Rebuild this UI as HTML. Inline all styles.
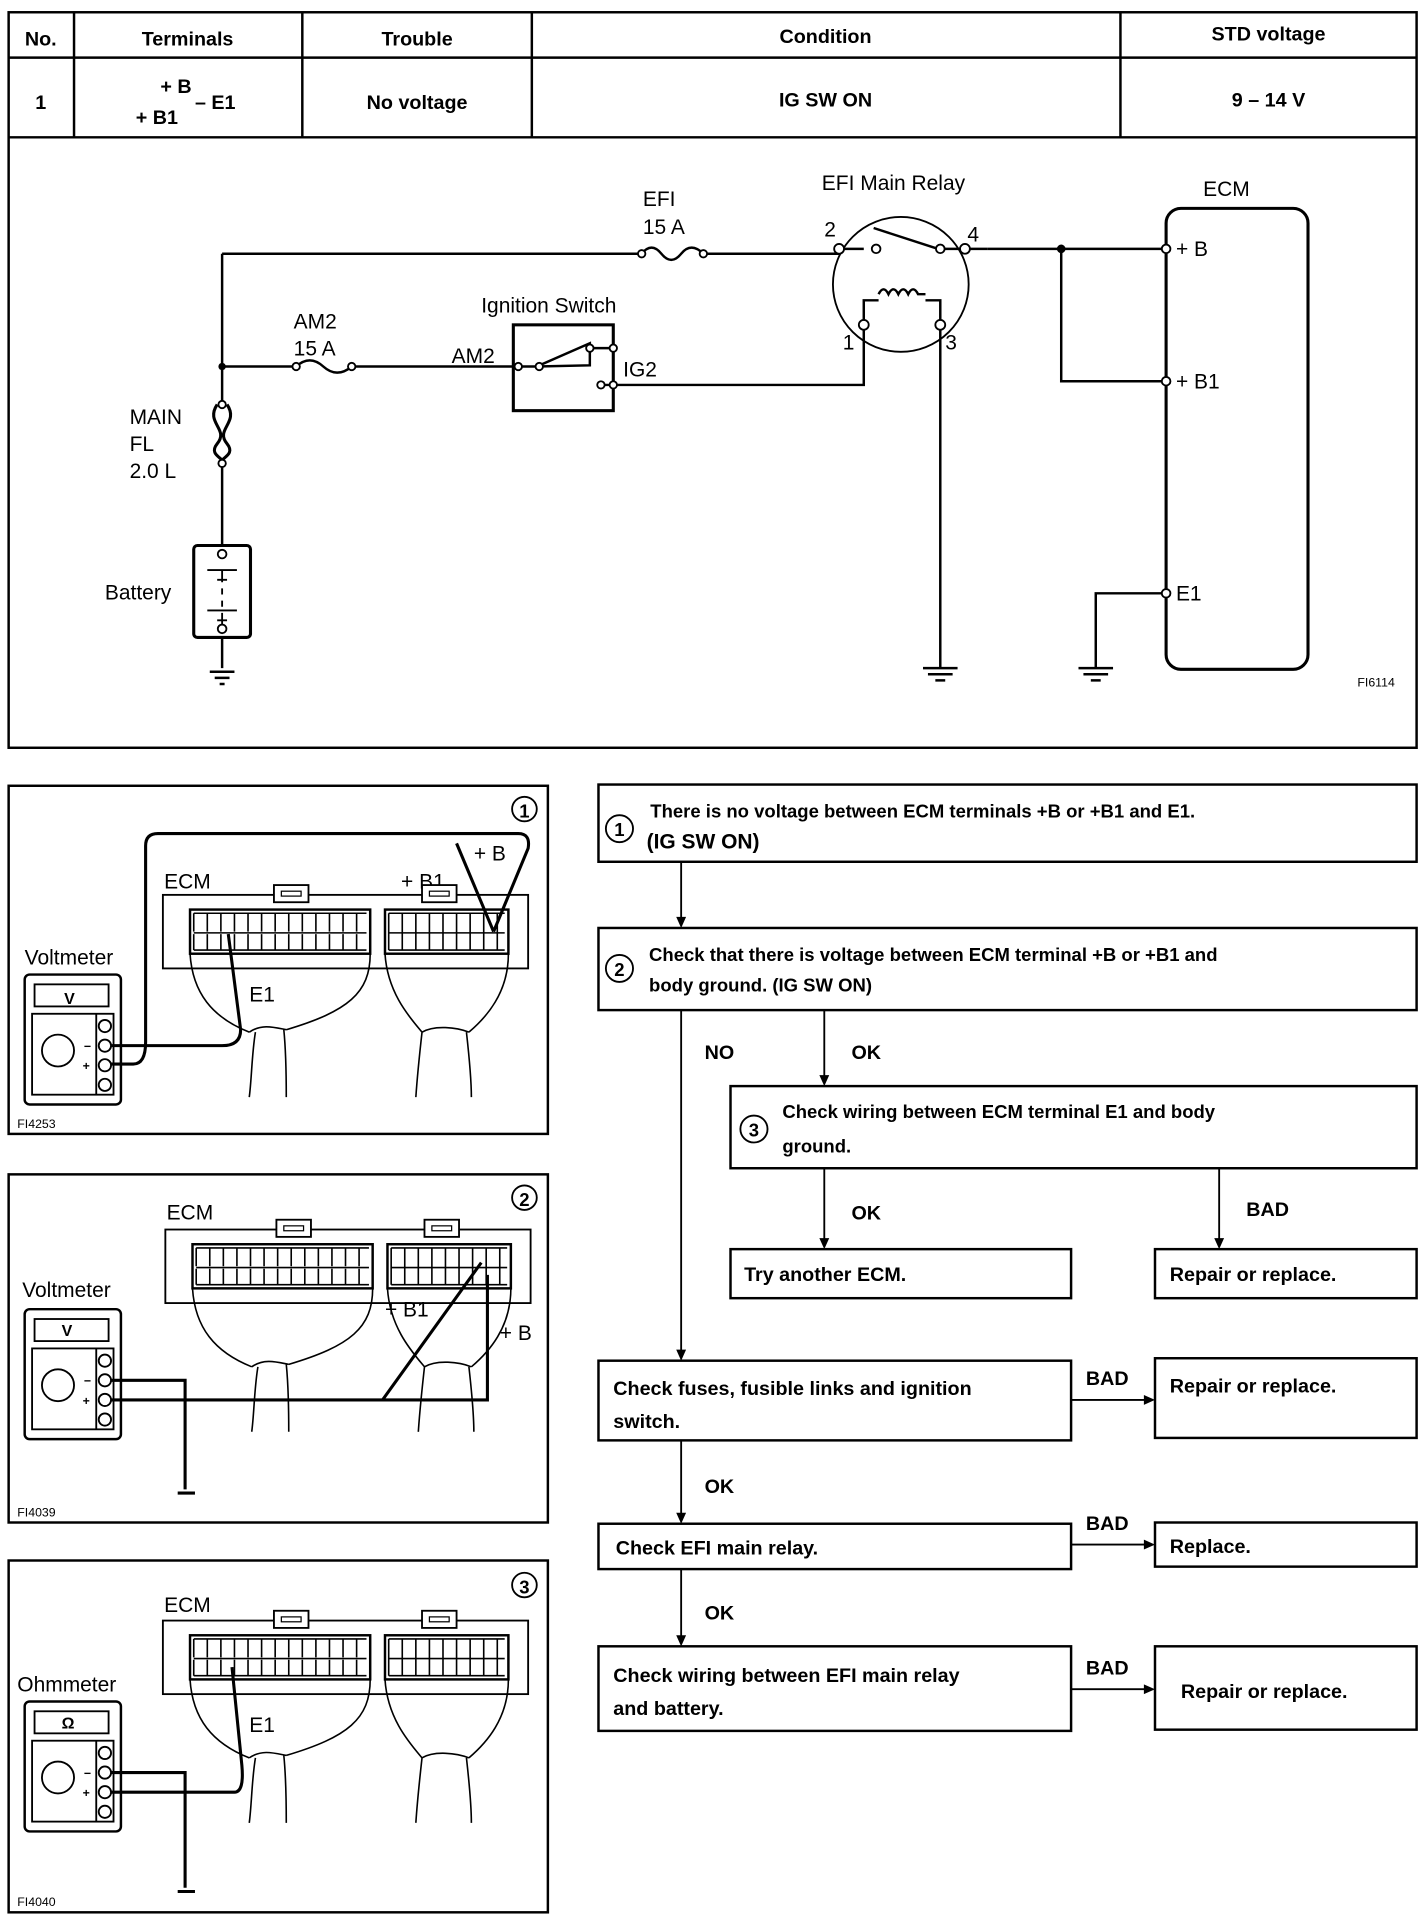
<!DOCTYPE html>
<html><head><meta charset="utf-8"><style>
html,body{margin:0;padding:0;background:#fff}
svg{display:block}
text{font-family:"Liberation Sans",sans-serif;fill:#000}
.b{font-weight:bold}
</style></head><body>
<svg width="1424" height="1916" viewBox="0 0 1154 1563" preserveAspectRatio="none" xmlns="http://www.w3.org/2000/svg">
<defs>
<g id="conn">
 <rect x="0" y="0" width="296" height="60" fill="none" stroke="#000" stroke-width="1.5"/>
 <rect x="90" y="-8" width="28" height="14" fill="#fff" stroke="#000" stroke-width="1.5"/>
 <rect x="96" y="-3" width="16" height="4" fill="none" stroke="#000"/>
 <rect x="210" y="-8" width="28" height="14" fill="#fff" stroke="#000" stroke-width="1.5"/>
 <rect x="216" y="-3" width="16" height="4" fill="none" stroke="#000"/>
 <rect x="22" y="12" width="146" height="36" fill="none" stroke="#000" stroke-width="2"/>
 <rect x="180" y="12" width="100" height="36" fill="none" stroke="#000" stroke-width="2"/>
 <g fill="none" stroke="#000" stroke-width="1.3">
 <path d="M25 15h140M25 31h140M25 30v-15M36 30v-15M47 30v-15M58 30v-15M69 30v-15M80 30v-15M91 30v-15M102 30v-15M113 30v-15M124 30v-15M135 30v-15M146 30v-15M157 30v-15M25 32v13M36 32v13M47 32v13M58 32v13M69 32v13M80 32v13M91 32v13M102 32v13M113 32v13M124 32v13M135 32v13M146 32v13M157 32v13M25 45h140"/>
 <path d="M183 15h94M183 31h94M183 45h94M183 15v30M194 15v30M205 15v30M216 15v30M227 15v30M238 15v30M249 15v30M260 15v30M271 15v30"/>
 <path d="M22 48 C24 80 40 100 70 112 M168 48 C168 80 150 95 100 110 M70 112 C80 105 90 108 100 110 M75 112 C72 130 72 150 70 165 M98 110 C100 130 100 150 100 165"/>
 <path d="M180 48 C182 80 200 100 210 112 M280 48 C280 80 262 100 248 112 M210 112 C220 106 238 108 248 112 M210 112 C208 130 206 150 205 165 M246 112 C248 130 250 150 250 165"/>
 </g>
</g>
<g id="meter">
 <rect x="0" y="0" width="78" height="106" rx="4" fill="none" stroke="#000" stroke-width="2"/>
 <rect x="8" y="8" width="60" height="18" fill="none" stroke="#000" stroke-width="1.5"/>
 <rect x="6" y="32" width="66" height="66" fill="none" stroke="#000" stroke-width="1.5"/>
 <line x1="58" y1="32" x2="58" y2="98" stroke="#000" stroke-width="1.5"/>
 <circle cx="27" cy="62" r="13" fill="none" stroke="#000" stroke-width="1.5"/>
 <g fill="none" stroke="#000" stroke-width="1.5"><circle cx="65" cy="42" r="5"/><circle cx="65" cy="58" r="5"/><circle cx="65" cy="74" r="5"/><circle cx="65" cy="90" r="5"/></g>
 <text x="48" y="62" font-size="10" class="b">−</text><text x="47" y="78" font-size="10" class="b">+</text>
</g>
</defs>

<!-- Table -->
<g fill="none" stroke="#000" stroke-width="2">
<rect x="7" y="10" width="1141" height="600"/>
<line x1="7" y1="47" x2="1148" y2="47"/>
<line x1="7" y1="112" x2="1148" y2="112"/>
<line x1="60" y1="10" x2="60" y2="112"/><line x1="245" y1="10" x2="245" y2="112"/><line x1="431" y1="10" x2="431" y2="112"/><line x1="908" y1="10" x2="908" y2="112"/>
</g>
<g class="b" font-size="16" text-anchor="middle">
<text x="33" y="37">No.</text><text x="152" y="37">Terminals</text><text x="338" y="37">Trouble</text><text x="669" y="35">Condition</text><text x="1028" y="33">STD voltage</text>
<text x="33" y="89">1</text><text x="338" y="89">No voltage</text><text x="669" y="87">IG SW ON</text><text x="1028" y="87">9 – 14 V</text>
<text x="130" y="76" text-anchor="start">+ B</text><text x="110" y="101" text-anchor="start">+ B1</text><text x="158" y="89" text-anchor="start">– E1</text>
</g>

<!-- Circuit -->
<g fill="none" stroke="#000" stroke-width="2">
<path d="M180 207H520M570 207H680M180 207V310M180 299H240M285 299H420"/>
<path d="M520 207q8-10 16 0q8 10 16 0q8-10 18 0" /><path d="M240 299q11-10 22 0q11 10 23 0"/>
<path d="M180 310V330M180 378V445M180 520V545"/>
<path d="M176 330c-10 15 10 20 0 32c-8 10 8 12 4 16M184 330c10 15 -10 20 0 32c8 10 -8 12 -4 16" stroke-width="2.5"/>
<rect x="157" y="445" width="46" height="75" rx="3" stroke-width="2.5"/>
<path d="M168 465h24M176 473h8M180 465v10M180 480v5M180 490v5M168 498h24M176 506h8M180 500v10" stroke-width="1.5"/>
<path d="M170 548h20M174 553h12M178 558h4"/>
<rect x="416" y="265" width="81" height="70" stroke-width="2.5"/>
<path d="M420 299H435L478 280V298L435 299"/><path d="M478 284H497M487 314H700V265"/>
<circle cx="730" cy="232" r="55" stroke-width="1.5"/>
<path d="M680 203H700M710 203M760 203H800M700 265V245H712M762 265V245H750"/>
<path d="M712 240q4-8 8 0q4-8 8 0q4-8 8 0q4-8 8 0H750"/>
<path d="M708 186L760 203"/>
<path d="M800 203H945M860 203V311H945M762 265V545M748 545h28M752 550h20M758 555h8"/>
<path d="M945 484H888V545M874 545h28M878 550h20M884 555h8"/>
<rect x="945" y="170" width="115" height="376" rx="12" stroke-width="2.5"/>
</g>
<g fill="#fff" stroke="#000" stroke-width="1.5">
<circle cx="680" cy="203" r="4"/><circle cx="710" cy="203" r="3.5"/><circle cx="762" cy="203" r="3.5"/><circle cx="782" cy="203" r="4"/>
<circle cx="700" cy="265" r="4"/><circle cx="762" cy="265" r="4"/>
<circle cx="520" cy="207" r="3"/><circle cx="570" cy="207" r="3"/><circle cx="240" cy="299" r="3"/><circle cx="285" cy="299" r="3"/>
<circle cx="420" cy="299" r="3"/><circle cx="437" cy="299" r="3"/><circle cx="478" cy="284" r="3"/><circle cx="487" cy="314" r="3"/><circle cx="497" cy="314" r="3"/><circle cx="497" cy="284" r="3"/>
<circle cx="945" cy="203" r="3.5"/><circle cx="945" cy="311" r="3.5"/><circle cx="945" cy="484" r="3.5"/>
<circle cx="180" cy="330" r="3"/><circle cx="180" cy="378" r="3"/><circle cx="180" cy="452" r="3.5"/><circle cx="180" cy="513" r="3.5"/>
</g>
<circle cx="180" cy="299" r="3"/><circle cx="860" cy="203" r="3.5"/>
<g font-size="17">
<text x="521" y="168">EFI</text><text x="521" y="191">15 A</text>
<text x="666" y="155">EFI Main Relay</text><text x="975" y="160">ECM</text>
<text x="390" y="255">Ignition Switch</text>
<text x="238" y="268">AM2</text><text x="238" y="290">15 A</text><text x="366" y="296">AM2</text><text x="505" y="307">IG2</text>
<text x="668" y="193">2</text><text x="784" y="197">4</text><text x="683" y="285">1</text><text x="766" y="285">3</text>
<text x="953" y="209">+ B</text><text x="953" y="317">+ B1</text><text x="953" y="490">E1</text>
<text x="105" y="346">MAIN</text><text x="105" y="368">FL</text><text x="105" y="390">2.0 L</text>
<text x="85" y="489">Battery</text>
<text x="1100" y="560" font-size="10">FI6114</text>
</g>

<!-- Panels -->
<g fill="none" stroke="#000" stroke-width="2">
<rect x="7" y="641" width="437" height="284"/>
<rect x="7" y="958" width="437" height="284"/>
<rect x="7" y="1273" width="437" height="287"/>
</g>
<g font-size="17">
<text x="133" y="725">ECM</text><text x="325" y="725">+ B1</text><text x="384" y="702">+ B</text><text x="20" y="787">Voltmeter</text><text x="202" y="817">E1</text>
<text x="135" y="995">ECM</text><text x="18" y="1058">Voltmeter</text><text x="312" y="1074">+ B1</text><text x="405" y="1093">+ B</text>
<text x="133" y="1315">ECM</text><text x="14" y="1380">Ohmmeter</text><text x="202" y="1413">E1</text>
<text x="52" y="819" font-size="13" class="b">V</text><text x="50" y="1090" font-size="13" class="b">V</text><text x="50" y="1410" font-size="13" class="b">Ω</text>
<text x="14" y="920" font-size="10">FI4253</text><text x="14" y="1237" font-size="10">FI4039</text><text x="14" y="1555" font-size="10">FI4040</text>
</g>
<g font-size="18" class="b" text-anchor="middle">
<circle cx="425" cy="660" r="10" fill="none" stroke="#000" stroke-width="1.5"/><text x="425" y="667" font-size="15">1</text>
<circle cx="425" cy="977" r="10" fill="none" stroke="#000" stroke-width="1.5"/><text x="425" y="984" font-size="15">2</text>
<circle cx="425" cy="1293" r="10" fill="none" stroke="#000" stroke-width="1.5"/><text x="425" y="1300" font-size="15">3</text>
</g>
<use href="#conn" x="132" y="730"/>
<use href="#conn" x="134" y="1003"/>
<use href="#conn" x="132" y="1322"/>
<use href="#meter" x="20" y="795"/>
<use href="#meter" x="20" y="1068"/>
<use href="#meter" x="20" y="1388"/>
<g fill="none" stroke="#000" stroke-width="2.5">
<path d="M90 853H180Q195 853 195 840L185 762M90 868H108Q118 868 118 850V690Q118 680 128 680H420Q430 680 428 692L400 760"/>
<path d="M370 688L400 760"/>
<path d="M90 1126H150V1215M90 1142H310L390 1030M90 1142H395V1040"/>
<path d="M90 1446H150V1540M90 1462H190Q198 1462 196 1440L188 1360"/>
<path d="M144 1218h14M144 1543h14"/>
</g>

<!-- Flowchart -->
<g fill="none" stroke="#000" stroke-width="2">
<rect x="485" y="640" width="663" height="63"/>
<rect x="485" y="757" width="663" height="67"/>
<rect x="592" y="886" width="556" height="67"/>
<rect x="592" y="1019" width="276" height="40"/>
<rect x="936" y="1019" width="212" height="40"/>
<rect x="485" y="1110" width="383" height="65"/>
<rect x="936" y="1108" width="212" height="65"/>
<rect x="485" y="1243" width="383" height="37"/>
<rect x="936" y="1242" width="212" height="36"/>
<rect x="485" y="1343" width="383" height="69"/>
<rect x="936" y="1343" width="212" height="68"/>
<g stroke-width="1.5">
<path d="M552 703V752M552 824V1105M668 824V881M668 953V1014M988 953V1014M552 1175V1238M552 1280V1338M868 1142H930M868 1260H930M868 1378H930"/>
</g>
</g>
<g>
<path d="M548 748L552 757L556 748Z M548 1101L552 1110L556 1101Z M664 877L668 886L672 877Z M664 1010L668 1019L672 1010Z M984 1010L988 1019L992 1010Z M548 1234L552 1243L556 1234Z M548 1334L552 1343L556 1334Z M927 1138L936 1142L927 1146Z M927 1256L936 1260L927 1264Z M927 1374L936 1378L927 1382Z"/>
</g>
<g font-size="16" class="b">
<circle cx="502" cy="676" r="11" fill="none" stroke="#000" stroke-width="1.5"/><text x="502" y="682" text-anchor="middle" font-size="15">1</text>
<circle cx="502" cy="790" r="11" fill="none" stroke="#000" stroke-width="1.5"/><text x="502" y="796" text-anchor="middle" font-size="15">2</text>
<circle cx="611" cy="921" r="11" fill="none" stroke="#000" stroke-width="1.5"/><text x="611" y="927" text-anchor="middle" font-size="15">3</text>
<text x="527" y="667" font-size="15">There is no voltage between ECM terminals +B or +B1 and E1.</text>
<text x="524" y="692" font-size="17">(IG SW ON)</text>
<text x="526" y="784" font-size="15">Check that there is voltage between ECM terminal +B or +B1 and</text>
<text x="526" y="809" font-size="15">body ground. (IG SW ON)</text>
<text x="634" y="912" font-size="15">Check wiring between ECM terminal E1 and body</text>
<text x="634" y="940" font-size="15">ground.</text>
<text x="603" y="1045">Try another ECM.</text>
<text x="948" y="1045">Repair or replace.</text>
<text x="497" y="1138">Check fuses, fusible links and ignition</text>
<text x="497" y="1165">switch.</text>
<text x="948" y="1136">Repair or replace.</text>
<text x="499" y="1268">Check EFI main relay.</text>
<text x="948" y="1267">Replace.</text>
<text x="497" y="1372">Check wiring between EFI main relay</text>
<text x="497" y="1399">and battery.</text>
<text x="957" y="1385">Repair or replace.</text>
<text x="571" y="864">NO</text><text x="690" y="864">OK</text>
<text x="690" y="995">OK</text><text x="1010" y="992">BAD</text>
<text x="571" y="1218">OK</text><text x="571" y="1321">OK</text>
<text x="880" y="1130">BAD</text><text x="880" y="1248">BAD</text><text x="880" y="1366">BAD</text>
</g>
</svg>
</body></html>
